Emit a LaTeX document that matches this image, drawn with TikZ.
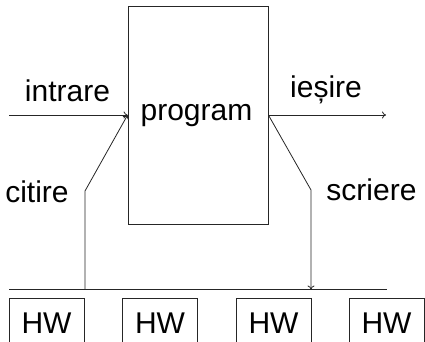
\documentclass[tikz,border=0pt]{standalone}
\usepackage{fontspec}
\setmainfont{Liberation Sans}
\usetikzlibrary{arrows.meta}
\begin{document}
\begin{tikzpicture}[x=1pt,y=-1pt,
  every node/.style={font=\fontsize{30}{36}\selectfont, inner sep=0pt},
  wire/.style={draw=black!85, line width=0.8pt},
  arr/.style={wire, -{To[length=4pt,width=7pt]}},
  progbox/.style={draw=black!85, line width=0.8pt, minimum width=140pt, minimum height=218pt},
  hwbox/.style={draw=black!85, line width=0.8pt, minimum width=75pt, minimum height=50pt, anchor=north},
  lbl/.style={anchor=base}]
\useasboundingbox (0,0) rectangle (425,341);
\clip (0,0) rectangle (425,341);

% program block
\node[progbox] (prog) at (198,115) {};
\node[lbl] (progtxt) at (196.5,120) {program};

% hardware units
\node[hwbox] (hw1) at (46.5,298) {HW};
\node[hwbox] (hw2) at (160,298) {HW};
\node[hwbox] (hw3) at (273.5,298) {HW};
\node[hwbox] (hw4) at (386.5,298) {HW};

% free ends and bends
\coordinate (inL) at (9,115);
\coordinate (outR) at (386,115);
\coordinate (busL) at (9,289.5);
\coordinate (busR) at (387,289.5);
\coordinate (rdBus) at (85,289.5);
\coordinate (rdBend) at (85,191);
\coordinate (wrBus) at (311,289.5);
\coordinate (wrBend) at (311,190);

% bus
\draw[wire] (busL) -- (busR);

% input / output
\draw[arr] (inL) -- (prog.west);
\draw[arr] (prog.east) -- (outR);

% read from bus, write to bus
\draw[arr] (rdBus) -- (rdBend) -- (prog.west);
\draw[arr] (prog.east) -- (wrBend) -- (wrBus);

% labels
\node[lbl] (lin) at (67.5,101) {intrare};
\node[lbl] (lout) at (326,97) {ieșire};
\node[lbl] (lrd) at (37,202) {citire};
\node[lbl] (lwr) at (371.5,200) {scriere};
\end{tikzpicture}
\end{document}
